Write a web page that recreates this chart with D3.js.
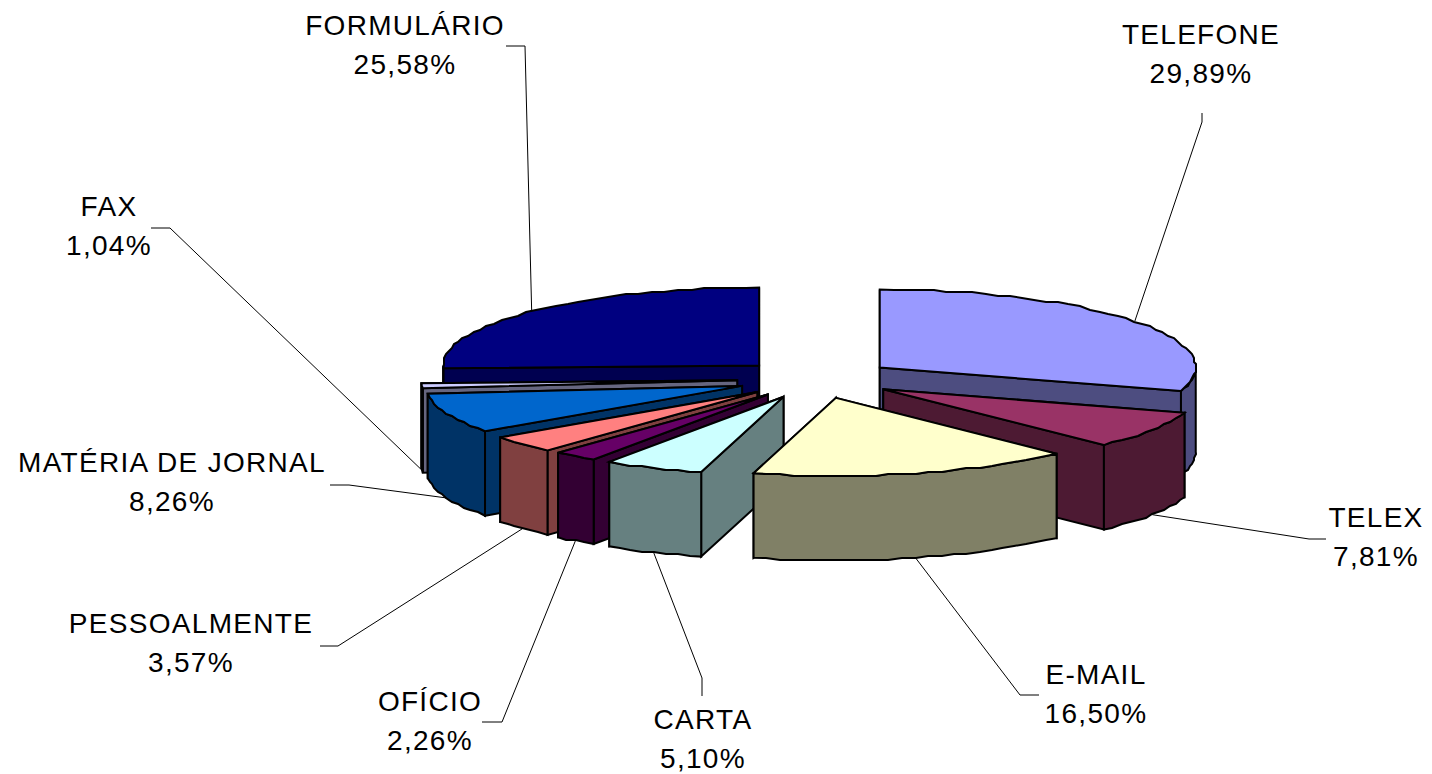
<!DOCTYPE html>
<html><head><meta charset="utf-8">
<style>html,body{margin:0;padding:0;background:#fff;overflow:hidden}svg{display:block}</style>
<script src="https://cdn.jsdelivr.net/npm/d3@7"></script></head>
<body><svg id="c" width="1432" height="774"></svg>
<script>
const categories = ["TELEFONE","TELEX","E-MAIL","CARTA","OFÍCIO","PESSOALMENTE","MATÉRIA DE JORNAL","FAX","FORMULÁRIO"];
const shares = [29.89,7.81,16.50,5.10,2.26,3.57,8.26,1.04,25.58];
const topColors = ["#9999FF","#993366","#FFFFCC","#CCFFFF","#660066","#FF8080","#0066CC","#CCCCFF","#000080"];
const sideColors = ["#4D4D80","#4D1A33","#808066","#668080","#330033","#804040","#003366","#666680","#000050"];
const paintOrder = [8,7,6,5,4,3,0,1,2];
// label layout: centre x, first baseline, leader waypoints from elbow to the label end
const labelLayout = [
 {x:1201,y:44,via:[[1202,122],[1202,113]]},
 {x:1376,y:527,via:[[1309,539],[1326,539]]},
 {x:1096,y:684,via:[[1020,695],[1039,695]]},
 {x:703,y:729,via:[[702,678],[702,696]]},
 {x:430,y:711,via:[[502,722],[482,722]]},
 {x:191,y:633,via:[[338,646],[320,646]]},
 {x:172,y:472,via:[[349,485],[330,485]]},
 {x:109,y:216,via:[[170,228],[151,228]]},
 {x:405,y:35,via:[[525,46],[506,46]]}
];
const explode = 0.25, depth = 84.5, step = 2.5*Math.PI/180, grain = 2;
const sx = d3.scaleLinear([-1,1],[816-316,816+316]);
const sy = d3.scaleLinear([-1,1],[379-78,379+78]);
const svg = d3.select("#c");
const arcs = d3.pie().sort(null).value(d=>d)(shares);
const line = d3.line().x(d=>d[0]).y(d=>d[1]);
const snap = v => Math.round(v/grain)*grain;
function geom(a){
  const mid=(a.startAngle+a.endAngle)/2;
  const ox=explode*Math.sin(mid), oy=-explode*Math.cos(mid);
  const pt=(ang,r=1,z=0)=>[sx(ox+r*Math.sin(ang)), sy(oy-r*Math.cos(ang))+z];
  return {mid,pt};
}
function samples(a0,a1){
  const n=Math.max(1,Math.ceil((a1-a0)/step));
  return d3.range(n+1).map(i=>a0+(a1-a0)*i/n);
}
function rim(pt,list,z){
  return list.map((t,k)=>{
    const p=pt(t,1,z);
    return (k===0||k===list.length-1)?p:[snap(p[0]),snap(p[1])];
  });
}
function face(g,pts,fill){
  g.append("path").attr("d",line(pts)+"Z").attr("fill",fill)
   .attr("stroke","#000").attr("stroke-width",2).attr("stroke-linejoin","miter");
}
paintOrder.forEach(i=>{
  const a=arcs[i], {pt}=geom(a), g=svg.append("g"), a0=a.startAngle, a1=a.endAngle, side=sideColors[i];
  const radial=ang=>[pt(0,0),pt(ang),pt(ang,1,depth),pt(0,0,depth)];
  const startVisible=a0>=Math.PI, endVisible=a1<=Math.PI;
  if(!startVisible) face(g,radial(a0),side);
  if(!endVisible) face(g,radial(a1),side);
  if(startVisible) face(g,radial(a0),side);
  if(endVisible) face(g,radial(a1),side);
  const w0=Math.max(a0,Math.PI/2), w1=Math.min(a1,3*Math.PI/2);
  if(w1>w0){
    const s=samples(w0,w1);
    face(g,[...rim(pt,s,0),...rim(pt,s,depth).reverse()],side);
  }
  face(g,[pt(0,0),...rim(pt,samples(a0,a1),0)],topColors[i]);
});
const fmt=v=>v.toFixed(2).replace(".",",")+"%";
arcs.forEach((a,i)=>{
  const {mid,pt}=geom(a), L=labelLayout[i];
  const front=Math.cos(mid)<0;
  svg.append("path").attr("fill","none").attr("stroke","#000").attr("stroke-width",1)
    .attr("d",line([pt(mid,1,front?depth:0),...L.via]));
  const t=svg.append("text").attr("text-anchor","middle").attr("letter-spacing",1.3)
    .attr("font-family","'Liberation Sans',Arial,sans-serif").attr("font-size",28).attr("fill","#000");
  t.append("tspan").attr("x",L.x).attr("y",L.y).text(categories[i]);
  t.append("tspan").attr("x",L.x).attr("y",L.y+38.7).text(fmt(shares[i]));
});
</script></body></html>
